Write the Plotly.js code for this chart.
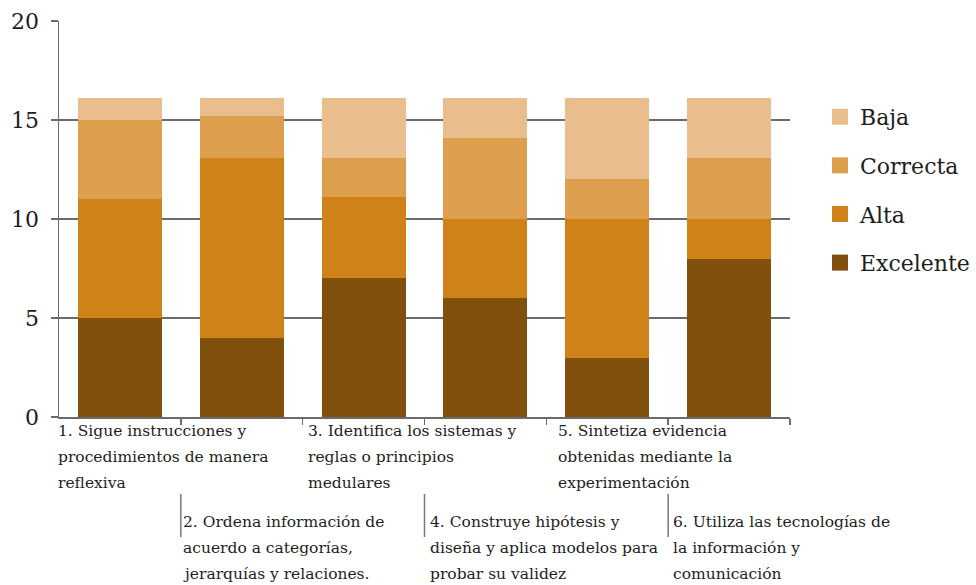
<!DOCTYPE html>
<html>
<head>
<meta charset="utf-8">
<script src="https://cdn.plot.ly/plotly-3.0.1.min.js"></script>
<style>html,body{margin:0;padding:0;background:#fff;}#chart{width:976px;height:585px;}</style>
</head>
<body>
<div id="chart"></div>
<script>
// Categories (x positions) and their multi-line labels
const categories = [0, 1, 2, 3, 4, 5];
const categoryLabels = [
  ["1. Sigue instrucciones y", "procedimientos de manera", "reflexiva"],
  ["2. Ordena información de", "acuerdo a categorías,", "jerarquías y relaciones."],
  ["3. Identifica los sistemas y", "reglas o principios", "medulares"],
  ["4. Construye hipótesis y", "diseña y aplica modelos para", "probar su validez"],
  ["5. Sintetiza evidencia", "obtenidas mediante la", "experimentación"],
  ["6. Utiliza las tecnologías de", "la información y", "comunicación"]
];
// Series values (stacked bottom to top)
const excelente = [5, 4, 7, 6, 3, 8];
const alta      = [6, 9.1, 4.1, 4, 7, 2];
const correcta  = [4, 2.1, 2, 4.1, 2, 3.1];
const baja      = [1.1, 0.9, 3, 2, 4.1, 3];
const seriesNames = ["Excelente", "Alta", "Correcta", "Baja"];
const yTicks = [0, 5, 10, 15, 20];

const colors = {Excelente: "#81500d", Alta: "#cf8217", Correcta: "#dd9e4e", Baja: "#eabe8c"};
const seriesData = {Excelente: excelente, Alta: alta, Correcta: correcta, Baja: baja};

const FONT = "DejaVu Serif";
const TXT = "#1e1e1e";
const GRID = "#6b6b6b";
const labelShift = [-3, 0, 3, 3, 10, 3];

const traces = seriesNames.map(n => ({
  type: "bar", x: categories, y: seriesData[n], name: n,
  marker: {color: colors[n], line: {width: 0}},
  showlegend: false, hoverinfo: "y+name"
}));
// legend entries (square swatches)
["Baja", "Correcta", "Alta", "Excelente"].forEach((n, i) => {
  traces.push({
    type: "scatter", mode: "markers", x: [null], y: [null], name: n,
    legendgroup: "g" + i,
    marker: {symbol: "square", size: 18, color: colors[n]},
    showlegend: true
  });
});

const annotations = [];
const shapes = [];
categoryLabels.forEach((lines, i) => {
  const row = i % 2;
  const firstCenter = row === 0 ? 431 : 522;
  lines.forEach((line, j) => {
    const cy = firstCenter + 26 * j;
    annotations.push({
      xref: "x", yref: "paper", x: i - 0.5, y: 0,
      xanchor: "left", yanchor: "middle",
      xshift: labelShift[i], yshift: -(cy - 417),
      text: line, showarrow: false,
      font: {family: FONT, size: 15.5, color: TXT}
    });
  });
  if (row === 1) {
    shapes.push({
      type: "line", xref: "x", yref: "paper",
      x0: i - 0.5, x1: i - 0.5,
      y0: (417 - 494) / 396, y1: (417 - 537) / 396,
      line: {color: "#777777", width: 1.5}
    });
  }
});

const layout = {
  width: 976, height: 585,
  margin: {l: 59, r: 186, t: 21, b: 168, pad: 0, autoexpand: false},
  paper_bgcolor: "#ffffff", plot_bgcolor: "#ffffff",
  barmode: "stack", bargap: 0.31,
  font: {family: FONT, color: TXT},
  xaxis: {
    type: "linear", range: [-0.5, 5.5],
    showgrid: false, zeroline: false,
    showline: true, linecolor: GRID, linewidth: 1.5,
    tickmode: "array", tickvals: [0.5, 1.5, 2.5, 3.5, 4.5, 5.5],
    ticks: "outside", ticklen: 6, tickcolor: GRID, tickwidth: 1.5,
    showticklabels: false, fixedrange: true, automargin: false
  },
  yaxis: {
    range: [0, 20], tickmode: "array", tickvals: yTicks,
    ticktext: yTicks.map(String),
    showgrid: true, gridcolor: GRID, gridwidth: 1.5,
    zeroline: false,
    showline: true, linecolor: GRID, linewidth: 1.5,
    ticks: "outside", ticklen: 7, tickcolor: GRID, tickwidth: 1.5,
    ticklabelstandoff: 7,
    tickfont: {family: FONT, size: 22, color: TXT},
    fixedrange: true, automargin: false
  },
  showlegend: true,
  legend: {
    x: (820 - 59) / 731, xanchor: "left",
    y: (417 - 96) / 396, yanchor: "top",
    font: {family: FONT, size: 22, color: TXT},
    traceorder: "grouped", tracegroupgap: 17,
    bgcolor: "rgba(0,0,0,0)", borderwidth: 0
  },
  annotations: annotations,
  shapes: shapes
};

Plotly.newPlot("chart", traces, layout, {displayModeBar: false, staticPlot: true});
</script>
</body>
</html>
